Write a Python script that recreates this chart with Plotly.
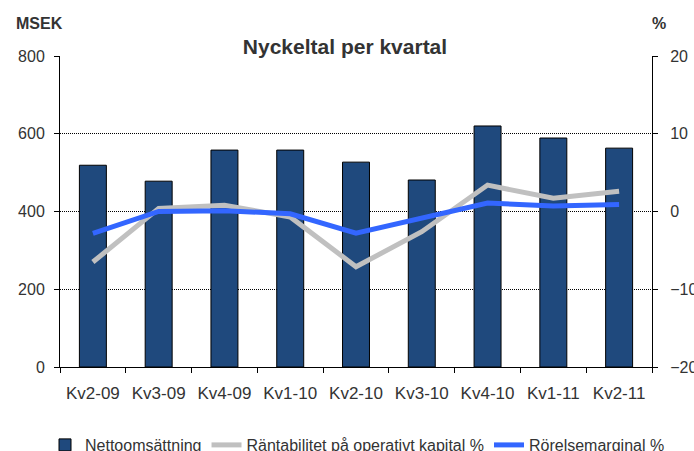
import plotly.graph_objects as go

categories = ["Kv2-09", "Kv3-09", "Kv4-09", "Kv1-10", "Kv2-10", "Kv3-10", "Kv4-10", "Kv1-11", "Kv2-11"]
nettoomsattning = [519, 478, 558, 558, 527, 481, 620, 589, 563]
rantabilitet = [-6.5, 0.4, 0.8, -0.7, -7.1, -2.6, 3.4, 1.7, 2.6]
rorelsemarginal = [-2.8, 0.0, 0.1, -0.3, -2.8, -0.9, 1.1, 0.7, 0.9]

left_ticks = [0, 200, 400, 600, 800]
inner_grid = [200, 400, 600]
right_ticks = [-20, -10, 0, 10, 20]

FONT = "Liberation Sans, Arial, sans-serif"
TXT = "#333333"

W, H = 694, 451
L, T, R, B = 60, 56, 42, 84
PW = W - L - R
PH = H - T - B

fig = go.Figure()
fig.add_trace(go.Bar(
    x=categories, y=nettoomsattning, name="Nettoomsättning",
    marker=dict(color="#1F497D", line=dict(color="#000000", width=1)),
    width=0.41, yaxis="y",
))
fig.add_trace(go.Scatter(
    x=categories, y=rantabilitet, name="Räntabilitet på operativt kapital %",
    mode="lines", line=dict(color="#C0C0C0", width=5), yaxis="y2",
))
fig.add_trace(go.Scatter(
    x=categories, y=rorelsemarginal, name="Rörelsemarginal %",
    mode="lines", line=dict(color="#3366FF", width=5), yaxis="y2",
))
# empty helper trace so the grid-only axis is built
fig.add_trace(go.Scatter(x=[], y=[], yaxis="y3", showlegend=False, hoverinfo="skip"))

fig.update_layout(
    width=W, height=H,
    margin=dict(l=L, r=R, t=T, b=B, autoexpand=False),
    paper_bgcolor="white", plot_bgcolor="white",
    font=dict(family=FONT, color=TXT),
    title=dict(text="<b>Nyckeltal per kvartal</b>", x=345 / W, xanchor="center",
               y=1 - 47 / H, yanchor="middle", yref="container",
               font=dict(size=21, color="#333333", family=FONT)),
    xaxis=dict(
        type="category", showline=True, linecolor="#000000", linewidth=1,
        ticks="outside", tickson="boundaries", ticklen=5, tickcolor="#000000",
        tickfont=dict(size=17, color=TXT), showgrid=False, automargin=False,
        ticklabelstandoff=11,
    ),
    yaxis=dict(
        range=[0, 800], tickvals=left_ticks, showline=True, linecolor="#000000",
        linewidth=1, ticks="outside", ticklen=5, tickcolor="#000000",
        tickfont=dict(size=16, color=TXT), showgrid=True, gridcolor="#B0B0B0",
        griddash="1px,1px", gridwidth=1, zeroline=False, automargin=False,
        ticklabelstandoff=6,
    ),
    yaxis3=dict(
        range=[0, 800], tickvals=inner_grid, overlaying="y", side="left",
        showticklabels=False, ticks="", showline=False, showgrid=True,
        gridcolor="#000000", griddash="1px,1px", gridwidth=1, zeroline=False,
        automargin=False,
    ),
    yaxis2=dict(
        range=[-20, 20], tickvals=right_ticks, overlaying="y", side="right",
        showline=True, linecolor="#000000", linewidth=1, ticks="outside",
        ticklen=5, tickcolor="#000000", tickfont=dict(size=16, color=TXT),
        showgrid=False, zeroline=False, automargin=False, ticklabelstandoff=9,
    ),
    legend=dict(orientation="h", x=(45 - L) / PW, xanchor="left",
                y=(367 - 445) / PH, yanchor="middle",
                font=dict(size=16, color=TXT), traceorder="normal",
                tracegroupgap=0),
    showlegend=True,
)
fig.add_annotation(text="<b>MSEK</b>", xref="paper", yref="paper", x=(14 - L) / PW, y=(367 - 24) / PH,
                   xanchor="left", yanchor="middle", showarrow=False,
                   font=dict(size=16, color=TXT, family=FONT))
fig.add_annotation(text="<b>%</b>", xref="paper", yref="paper", x=(650 - L) / PW, y=(367 - 24) / PH,
                   xanchor="left", yanchor="middle", showarrow=False,
                   font=dict(size=16, color=TXT, family=FONT))

fig.write_html(
    "out.html",
    config={"displayModeBar": False},
    post_script="document.body.style.margin='0';document.documentElement.style.overflow='hidden';",
)
